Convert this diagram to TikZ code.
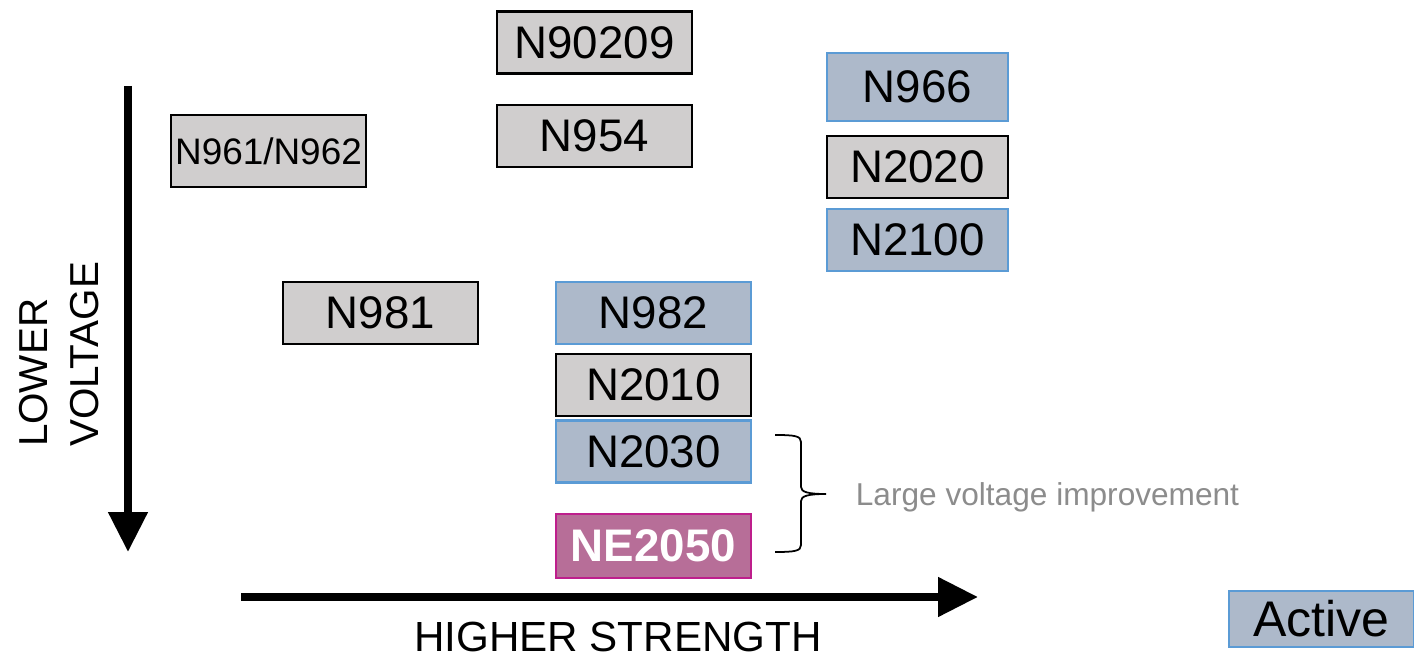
\documentclass[tikz,border=0pt]{standalone}
\usepackage{fontspec}
\setmainfont{Liberation Sans}
\usetikzlibrary{arrows.meta}
\definecolor{OldFill}{HTML}{D0CECE}
\definecolor{ActiveFill}{HTML}{ADB9CA}
\definecolor{ActiveLine}{HTML}{5B9BD5}
\definecolor{NewFill}{HTML}{B76E98}
\definecolor{NewLine}{HTML}{BE1E8C}
\definecolor{NoteGray}{HTML}{8C8C8C}

\begin{document}
\begin{tikzpicture}[x=0.02cm, y=-0.02cm,
   part/.style={inner sep=0pt, minimum width=3.9cm, minimum height=1.24cm,
                font=\fontsize{26}{30}\selectfont},
   old/.style={part, draw=black, line width=1.4pt, fill=OldFill},
   active/.style={part, draw=ActiveLine, line width=1.4pt, fill=ActiveFill},
   axis/.style={line width=4.5pt, -{Triangle[length=0.8cm,width=0.76cm]}}]
  \useasboundingbox (0,0) rectangle (1414,658);
  % upper row
  \node[old]    (n90209) at (594.5,42.5) {N90209};
  \node[old]    (n954)   at (594.5,136)  {N954};
  \node[old, minimum height=1.44cm, font=\fontsize{21}{25}\selectfont]
                (n961)   at (268.5,151)  {N961/N962};
  % right column
  \node[active, minimum width=3.62cm, minimum height=1.36cm] (n966) at (917.5,87) {N966};
  \node[old, minimum width=3.62cm]    (n2020) at (917.5,167) {N2020};
  \node[active, minimum width=3.62cm] (n2100) at (917.5,240) {N2100};
  % lower rows
  \node[old]    (n981)   at (380.5,313)  {N981};
  \node[active] (n982)   at (653.5,313)  {N982};
  \node[old]    (n2010)  at (653.5,385)  {N2010};
  \node[active] (n2030)  at (653.5,451.5){N2030};
  \node[part, draw=NewLine, line width=1.4pt, fill=NewFill, minimum height=1.28cm,
        text=white, font=\fontsize{26}{30}\selectfont\bfseries]
                (ne2050) at (653.5,546)  {NE2050};
  % legend
  \node[active, minimum width=3.7cm, minimum height=1.12cm,
        font=\fontsize{28.5}{32}\selectfont] (legend) at (1321.5,619) {Active};
  % axes
  \coordinate (vtop) at (128,86);
  \coordinate (vend) at (128,552);
  \coordinate (hbeg) at (241,597);
  \coordinate (hend) at (978,597);
  \draw[axis] (vtop) -- (vend);
  \draw[axis] (hbeg) -- (hend);
  \node[rotate=90, align=left, font=\fontsize{23}{29}\selectfont] (vlabel) at (59,354.5)
    {LOWER\\VOLTAGE};
  \node[font=\fontsize{24}{28}\selectfont] (hlabel) at (618,637) {HIGHER STRENGTH};
  % brace and note
  \coordinate (brtop) at (775,435);
  \coordinate (brtip) at (826,494);
  \coordinate (brbot) at (775,552);
  \draw[line width=1pt]
    (brtop) .. controls (795,435) and (801,436) .. (801,442) -- (801,487)
    .. controls (801,492) and (808,494) .. (brtip)
    .. controls (808,494) and (801,496) .. (801,501) -- (801,545)
    .. controls (801,551) and (795,552) .. (brbot);
  \node[text=NoteGray, font=\fontsize{18}{22}\selectfont] (note) at (1047.5,497)
    {Large voltage improvement};
\end{tikzpicture}
\end{document}
